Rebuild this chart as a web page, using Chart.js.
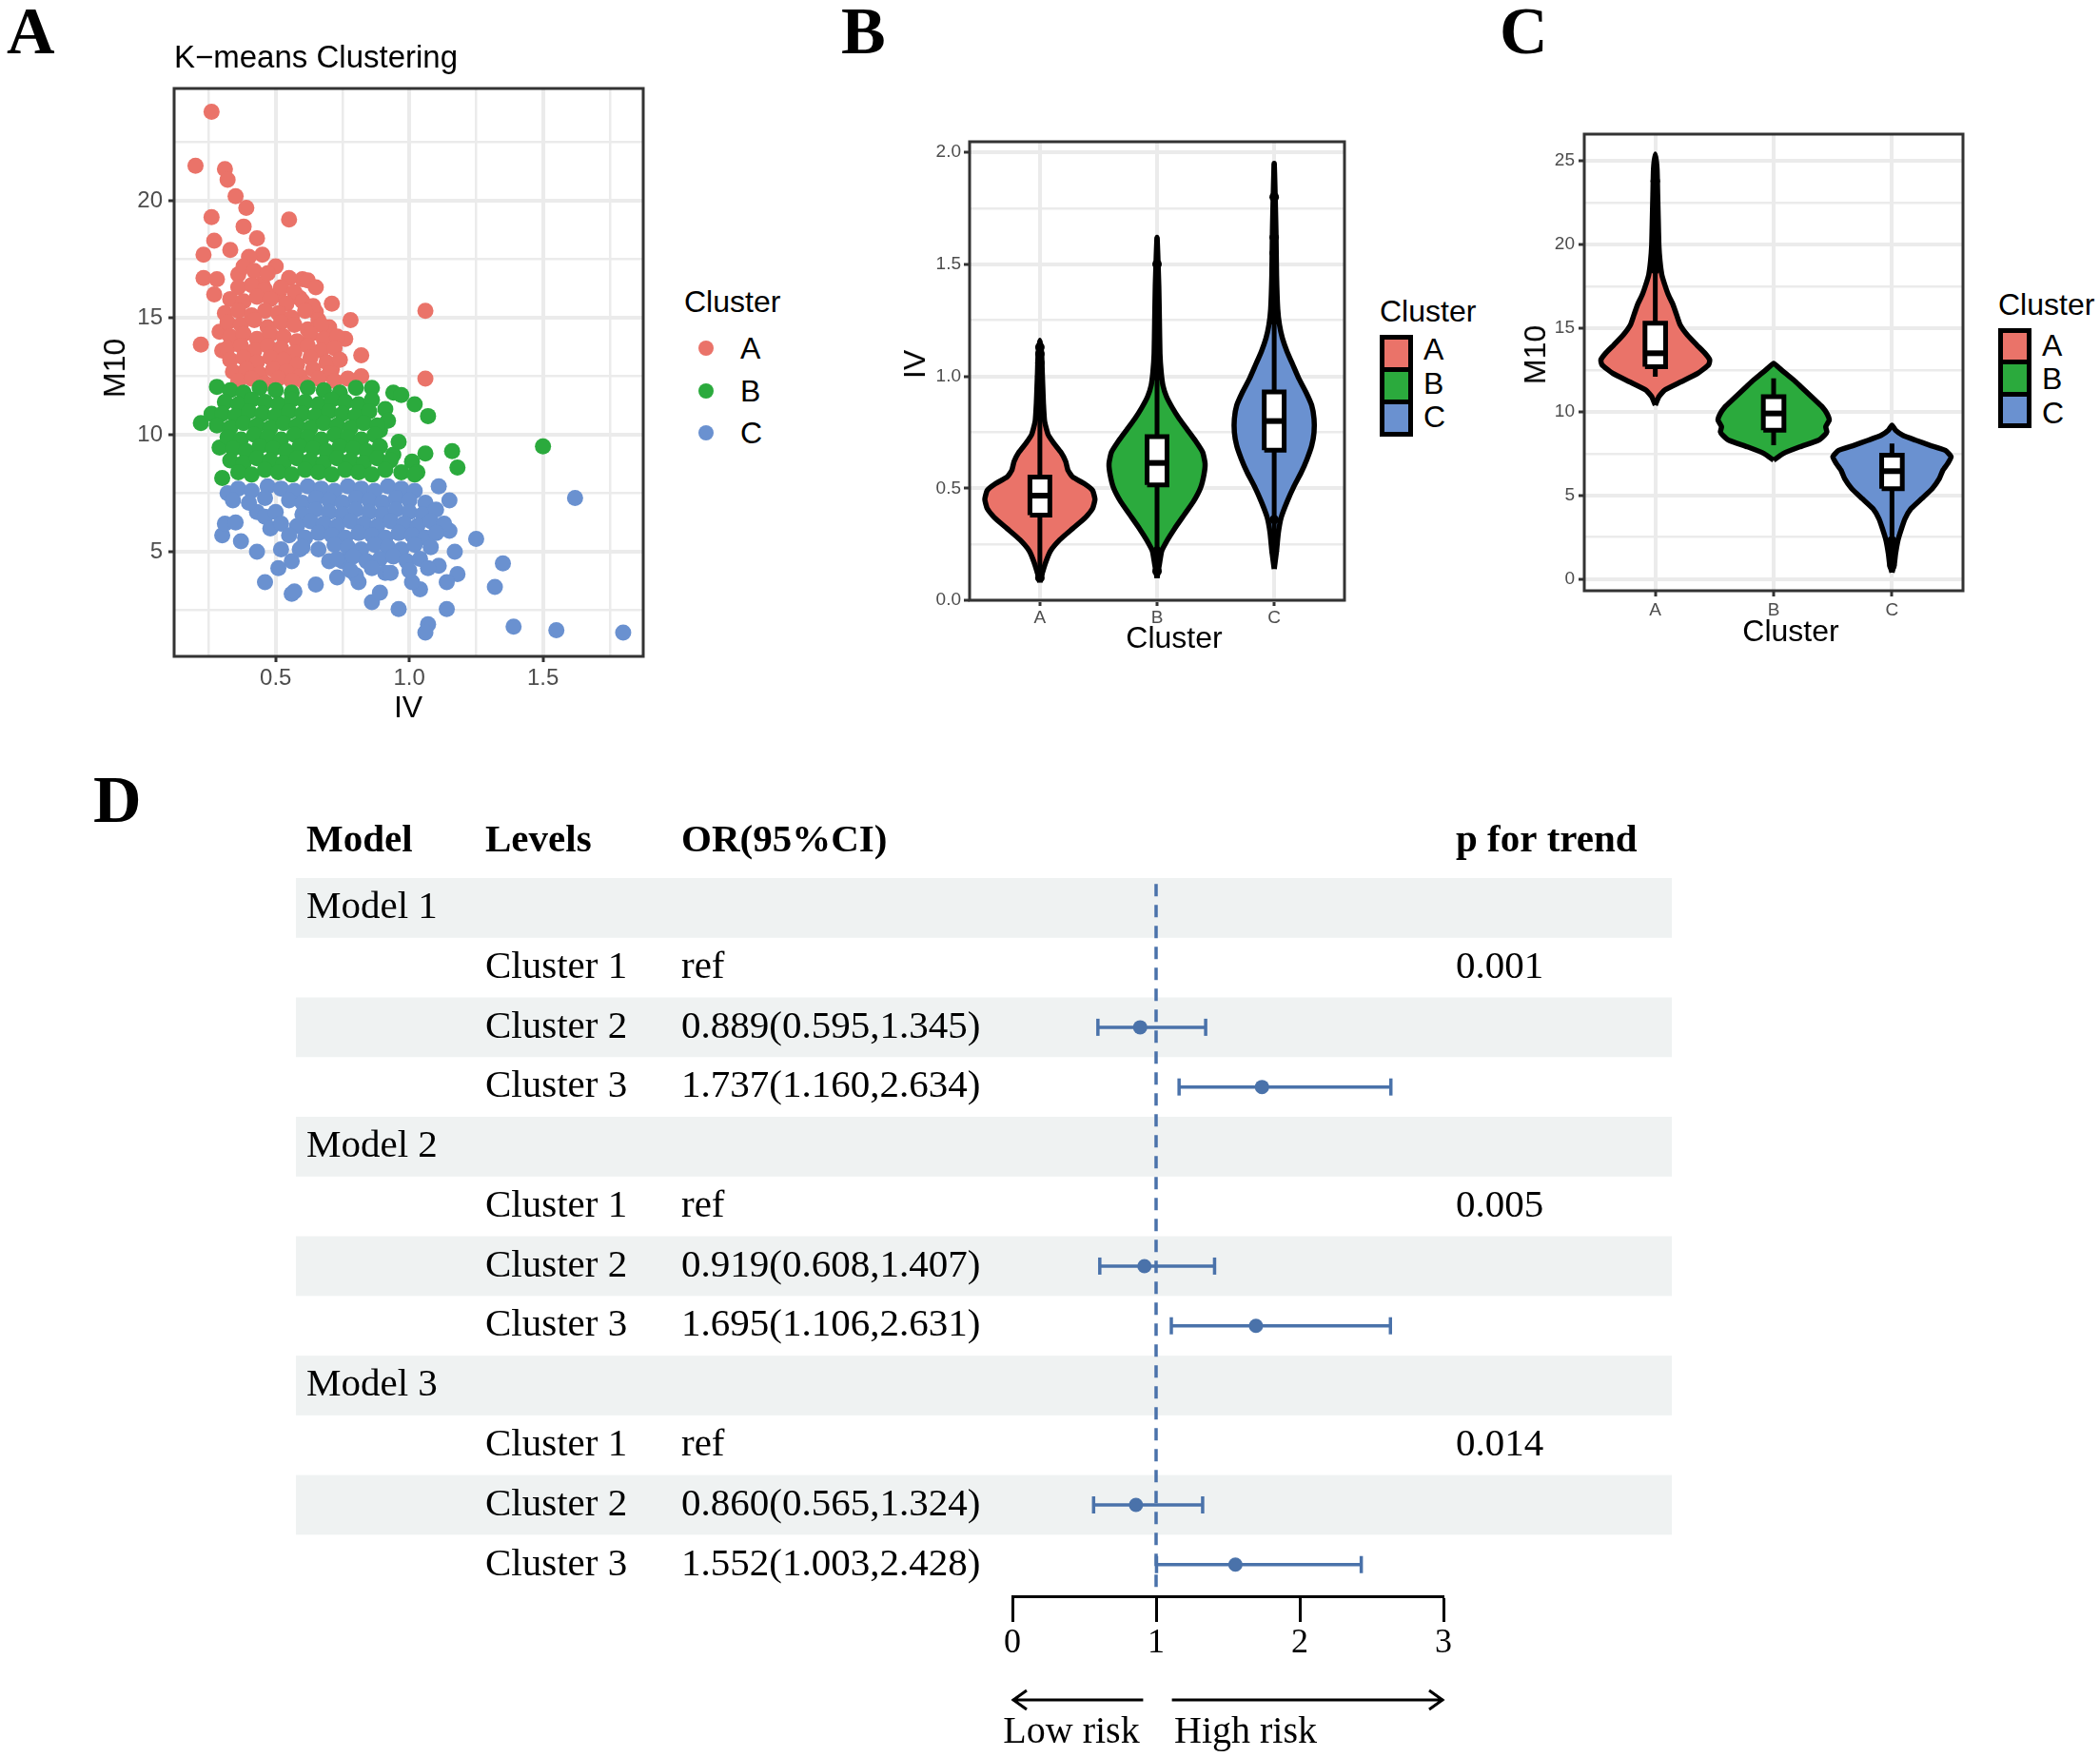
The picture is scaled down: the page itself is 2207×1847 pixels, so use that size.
<!DOCTYPE html>
<html>
<head>
<meta charset="utf-8">
<script src="https://cdn.jsdelivr.net/npm/chart.js@4.4.1/dist/chart.umd.min.js"></script>
<style>
  body { margin: 0; background: #fff; }
  #fig { position: relative; width: 2207px; height: 1847px; overflow: hidden; background: #fff; }
  .box { position: absolute; }
  .t { position: absolute; white-space: nowrap; line-height: 1; font-family: "Liberation Sans", Arial, sans-serif; color: #000; }
</style>
</head>
<body>
<div id="fig">
  <div class="box" style="left:0px;top:0px;width:700px;height:760px"><canvas id="chartA" width="700" height="760"></canvas></div>
  <div class="box" style="left:900px;top:100px;width:520px;height:600px"><canvas id="chartB" width="520" height="600"></canvas></div>
  <div class="box" style="left:1560px;top:100px;width:520px;height:600px"><canvas id="chartC" width="520" height="600"></canvas></div>
  <div class="box" style="left:300px;top:840px;width:1500px;height:1007px"><canvas id="chartD" width="1500" height="1007"></canvas></div>
</div>
<script>
// ---------- data ----------
const clusterNames = ['A', 'B', 'C'];

// panel A: K-means scatter (IV, M10)
const kmPointsA = [
  [0.26,23.8],[0.20,21.5],[0.31,21.35],[0.32,20.9],[0.35,20.2],[0.39,19.7],[0.26,19.3],[0.55,19.2],[0.38,18.9],
  [0.27,18.3],[0.43,18.4],[0.23,17.7],[0.33,17.9],[0.45,17.7],[0.40,17.6],[0.50,17.2],[0.23,16.7],[0.28,16.65],
  [0.36,16.85],[0.60,16.65],[0.62,16.6],[0.45,16.45],[0.27,16.0],[0.51,16.0],[0.59,15.85],[0.71,15.6],[1.06,15.3],
  [0.65,15.25],[0.78,14.9],[0.70,14.6],[0.22,13.85],[0.76,14.1],[0.82,13.4],[0.71,12.8],[0.82,12.5],[1.06,12.4],
  [0.29,14.4],[0.30,13.6],[0.38,17.2],[0.42,17.0],[0.47,16.9],[0.55,16.7],[0.65,16.3],
  [0.36,16.3],[0.41,16.4],[0.46,16.2],[0.52,16.3],[0.57,16.1],
  [0.33,15.8],[0.38,15.7],[0.43,15.9],[0.48,15.8],[0.54,15.6],[0.60,15.7],[0.64,15.5],
  [0.31,15.2],[0.36,15.3],[0.41,15.1],[0.46,15.3],[0.51,15.2],[0.56,15.0],[0.61,15.3],[0.66,14.9],
  [0.32,14.8],[0.37,14.7],[0.42,14.9],[0.47,14.6],[0.52,14.8],[0.57,14.7],[0.62,14.5],[0.67,14.7],
  [0.33,14.2],[0.38,14.3],[0.43,14.1],[0.48,14.3],[0.53,14.2],[0.58,14.0],[0.63,14.3],[0.68,14.1],[0.73,14.2],
  [0.32,13.7],[0.37,13.8],[0.42,13.6],[0.47,13.8],[0.52,13.7],[0.57,13.5],[0.62,13.8],[0.67,13.6],[0.72,13.7],
  [0.33,13.2],[0.38,13.3],[0.43,13.1],[0.48,13.3],[0.53,13.2],[0.58,13.0],[0.63,13.3],[0.69,13.1],[0.74,13.2],
  [0.34,12.7],[0.39,12.8],[0.44,12.6],[0.49,12.8],[0.54,12.7],[0.59,12.5],[0.64,12.8],[0.70,12.6],
  [0.36,12.3],[0.41,12.4],[0.46,12.2],[0.51,12.4],[0.56,12.3],[0.61,12.2],[0.66,12.4],[0.72,12.3],[0.77,12.4]
];
const kmPointsB = [
  [0.28,12.05],[0.22,10.5],[0.26,10.9],[0.29,9.45],[0.30,8.15],[0.86,12.0],[0.94,11.8],[0.97,11.7],[1.02,11.3],
  [1.07,10.8],[0.91,11.1],[1.06,9.2],[1.16,9.3],[1.18,8.6],[1.50,9.5],[1.01,8.85],[1.03,8.4],[0.94,9.15],
  [0.89,10.2],[0.92,10.6],[0.96,9.7],
  [0.33,11.9],[0.38,11.8],[0.44,12.0],[0.50,11.9],[0.56,11.8],[0.62,12.0],[0.68,11.9],[0.74,11.8],[0.80,12.0],
  [0.31,11.4],[0.36,11.3],[0.41,11.5],[0.46,11.4],[0.51,11.3],[0.56,11.5],[0.61,11.4],[0.66,11.3],[0.71,11.5],[0.76,11.4],[0.81,11.3],[0.86,11.5],
  [0.30,10.9],[0.35,10.8],[0.40,11.0],[0.45,10.9],[0.50,10.8],[0.55,11.0],[0.60,10.9],[0.65,10.8],[0.70,11.0],[0.75,10.9],[0.80,10.8],[0.85,11.0],
  [0.28,10.4],[0.33,10.3],[0.38,10.5],[0.43,10.4],[0.48,10.3],[0.53,10.5],[0.58,10.4],[0.63,10.3],[0.68,10.5],[0.73,10.4],[0.78,10.3],[0.83,10.5],[0.88,10.4],
  [0.32,9.9],[0.37,9.8],[0.42,10.0],[0.47,9.9],[0.52,9.8],[0.57,10.0],[0.62,9.9],[0.67,9.8],[0.72,10.0],[0.77,9.9],[0.82,9.8],[0.87,10.0],
  [0.34,9.4],[0.39,9.3],[0.44,9.5],[0.49,9.4],[0.54,9.3],[0.59,9.5],[0.64,9.4],[0.69,9.3],[0.74,9.5],[0.79,9.4],[0.84,9.3],[0.89,9.5],
  [0.33,8.9],[0.38,8.8],[0.43,9.0],[0.48,8.9],[0.53,8.8],[0.58,9.0],[0.63,8.9],[0.68,8.8],[0.73,9.0],[0.78,8.9],[0.83,8.8],[0.88,9.0],[0.93,8.9],
  [0.36,8.4],[0.41,8.3],[0.46,8.5],[0.51,8.4],[0.56,8.3],[0.61,8.5],[0.66,8.4],[0.71,8.3],[0.76,8.5],[0.81,8.4],[0.86,8.3],[0.91,8.5],[0.97,8.4],[1.02,8.3]
];
const kmPointsC = [
  [1.62,7.3],[1.25,5.55],[1.35,4.5],[1.32,3.5],[1.39,1.8],[1.55,1.65],[1.80,1.55],[1.07,1.9],[1.06,1.55],[1.14,2.55],
  [0.96,2.55],[0.86,2.85],[0.89,3.25],[1.18,4.05],[1.14,3.7],[1.11,4.4],[1.17,5.0],[1.15,5.9],[1.11,7.8],[1.15,7.2],
  [1.04,3.4],[1.01,3.7],[0.81,3.7],[0.80,4.0],[0.73,3.9],[0.65,3.6],[0.56,3.2],[0.57,3.3],[0.46,3.7],[0.51,4.3],
  [0.56,4.6],[0.52,5.1],[0.59,5.1],[0.43,5.0],[0.37,5.45],[0.30,5.7],[0.31,6.2],[0.35,6.25],[0.43,6.7],[0.32,7.5],
  [0.70,4.6],[0.75,4.6],[0.86,4.5],[0.91,4.1],[0.46,6.5],[0.48,6.0],
  [0.36,7.7],[0.41,7.6],[0.47,7.8],[0.52,7.7],[0.57,7.6],[0.62,7.8],[0.67,7.7],[0.72,7.6],[0.77,7.8],[0.82,7.7],[0.87,7.6],[0.92,7.8],[0.97,7.7],[1.02,7.6],
  [0.34,7.2],[0.40,7.1],[0.46,7.3],[0.55,7.2],[0.60,7.1],[0.65,7.3],[0.70,7.2],[0.75,7.1],[0.80,7.3],[0.85,7.2],[0.90,7.1],[0.95,7.3],[1.00,7.2],[1.06,7.1],
  [0.50,6.7],[0.60,6.6],[0.65,6.8],[0.70,6.7],[0.75,6.6],[0.80,6.8],[0.85,6.7],[0.90,6.6],[0.95,6.8],[1.00,6.7],[1.05,6.6],[1.10,6.8],
  [0.52,6.2],[0.58,6.1],[0.63,6.3],[0.68,6.2],[0.73,6.1],[0.78,6.3],[0.83,6.2],[0.88,6.1],[0.93,6.3],[0.98,6.2],[1.03,6.1],[1.08,6.3],[1.13,6.2],
  [0.55,5.7],[0.61,5.6],[0.66,5.8],[0.71,5.7],[0.76,5.6],[0.81,5.8],[0.86,5.7],[0.91,5.6],[0.96,5.8],[1.01,5.7],[1.06,5.6],[1.10,5.8],
  [0.60,5.2],[0.66,5.1],[0.72,5.3],[0.77,5.2],[0.82,5.1],[0.87,5.3],[0.92,5.2],[0.97,5.1],[1.02,5.3],[1.08,5.2],
  [0.73,4.7],[0.79,4.8],[0.84,4.6],[0.89,4.7],[0.94,4.8],[0.99,4.6],[1.04,4.7],
  [0.78,4.2],[0.86,4.3],[0.93,4.1],[1.00,4.2],[1.07,4.3]
];

// panel B: IV by cluster, violin profile [value, half width] and box stats
const ivDensityA = [[0.08,0],[0.12,0.02],[0.17,0.05],[0.22,0.09],[0.27,0.17],[0.32,0.28],[0.37,0.39],[0.41,0.45],[0.45,0.47],[0.49,0.45],[0.52,0.38],[0.55,0.28],[0.58,0.24],[0.62,0.22],[0.66,0.18],[0.70,0.12],[0.74,0.07],[0.80,0.04],[0.88,0.03],[0.95,0.025],[1.02,0.02],[1.10,0.015],[1.16,0]];
const ivDensityB = [[0.10,0],[0.16,0.02],[0.22,0.04],[0.27,0.09],[0.32,0.15],[0.38,0.23],[0.44,0.31],[0.50,0.37],[0.56,0.40],[0.61,0.41],[0.66,0.39],[0.71,0.33],[0.76,0.26],[0.81,0.19],[0.86,0.13],[0.91,0.08],[0.96,0.05],[1.02,0.035],[1.10,0.025],[1.25,0.02],[1.40,0.015],[1.62,0]];
const ivDensityC = [[0.14,0],[0.22,0.02],[0.30,0.035],[0.37,0.06],[0.44,0.11],[0.51,0.17],[0.57,0.23],[0.63,0.28],[0.69,0.32],[0.75,0.34],[0.81,0.34],[0.87,0.32],[0.93,0.27],[0.99,0.21],[1.05,0.16],[1.11,0.11],[1.17,0.07],[1.23,0.045],[1.30,0.03],[1.45,0.02],[1.65,0.015],[1.95,0]];
const ivQ1 = [0.38, 0.515, 0.67];
const ivMedian = [0.467, 0.613, 0.80];
const ivQ3 = [0.55, 0.73, 0.93];
const ivMin = [0.09, 0.10, 0.15];
const ivMax = [1.16, 1.62, 1.95];
const ivOutliers = [
  [0.82, 0.86, 0.90, 0.95, 1.00, 1.06, 1.10, 1.13, 0.12, 0.10],
  [1.00, 1.06, 1.15, 1.17, 1.50, 0.22, 0.13],
  [1.25, 1.30, 1.33, 1.38, 1.55, 1.62, 1.80, 0.22, 0.26, 0.30, 0.36]
];

// panel C: M10 by cluster
const m10DensityA = [[10.4,0],[10.9,0.03],[11.3,0.08],[11.8,0.22],[12.3,0.36],[12.8,0.45],[13.1,0.46],[13.5,0.42],[14.0,0.35],[14.6,0.27],[15.2,0.21],[15.8,0.18],[16.4,0.15],[17.0,0.11],[17.6,0.08],[18.2,0.055],[19.0,0.04],[20.0,0.03],[21.5,0.025],[23.0,0.02],[24.5,0.015],[25.4,0]];
const m10DensityB = [[7.1,0],[7.5,0.08],[7.9,0.22],[8.3,0.38],[8.6,0.43],[8.8,0.45],[9.1,0.44],[9.5,0.47],[9.9,0.45],[10.3,0.41],[10.7,0.35],[11.1,0.29],[11.5,0.23],[11.9,0.17],[12.3,0.10],[12.6,0.05],[12.9,0]];
const m10DensityC = [[0.4,0],[0.9,0.02],[1.5,0.03],[2.3,0.05],[3.0,0.08],[3.6,0.11],[4.2,0.16],[4.8,0.25],[5.4,0.34],[6.0,0.40],[6.5,0.43],[6.9,0.47],[7.3,0.50],[7.7,0.45],[8.0,0.32],[8.3,0.20],[8.6,0.09],[8.9,0.03],[9.2,0]];
const m10Q1 = [12.7, 8.9, 5.4];
const m10Median = [13.5, 9.9, 6.45];
const m10Q3 = [15.3, 10.9, 7.4];
const m10Min = [12.1, 8.0, 0.5];
const m10Max = [25.3, 12.0, 8.1];
const m10Outliers = [
  [18.5, 18.9, 19.3, 19.8, 20.3, 20.8, 21.2, 21.6, 23.8],
  [],
  [0.8, 1.1, 1.4, 1.6, 1.8, 2.0, 2.3]
];

// panel D: forest table
const modelCol = ['Model 1', '', '', '', 'Model 2', '', '', '', 'Model 3', '', '', ''];
const levelCol = ['', 'Cluster 1', 'Cluster 2', 'Cluster 3', '', 'Cluster 1', 'Cluster 2', 'Cluster 3', '', 'Cluster 1', 'Cluster 2', 'Cluster 3'];
const pTrendCol = ['', '0.001', '', '', '', '0.005', '', '', '', '0.014', '', ''];
const refRows = [1, 5, 9];
const orRows = [2, 3, 6, 7, 10, 11];
const orEst = [0.889, 1.737, 0.919, 1.695, 0.860, 1.552];
const orLow = [0.595, 1.160, 0.608, 1.106, 0.565, 1.003];
const orHigh = [1.345, 2.634, 1.407, 2.631, 1.324, 2.428];
const shadedRows = [0, 2, 4, 6, 8, 10];
const forestTicks = [0, 1, 2, 3];

// ---------- styles ----------
const SANS = '"Liberation Sans", Arial, sans-serif';
const SERIF = '"Liberation Serif", "Times New Roman", serif';
const RED = '#EA7369', GREEN = '#2BAA3D', BLUE = '#6A91D0';
const FOREST = '#4A72AA';
const fig = document.getElementById('fig');

const panelBorder = {
  id: 'panelBorder',
  afterDraw(chart) {
    const a = chart.chartArea, ctx = chart.ctx;
    ctx.save();
    ctx.strokeStyle = '#333333';
    ctx.lineWidth = 3;
    ctx.strokeRect(a.left, a.top, a.right - a.left, a.bottom - a.top);
    ctx.restore();
  }
};

function ggScale(o) {
  const isMajor = v => Math.abs(v / o.major - Math.round(v / o.major)) < 1e-6;
  return {
    type: 'linear', min: o.min, max: o.max,
    ticks: {
      stepSize: o.step, autoSkip: false, includeBounds: false, maxRotation: 0,
      color: '#4D4D4D', padding: o.pad,
      font: { family: SANS, size: o.font },
      callback: o.label || (v => isMajor(v) ? v.toFixed(o.digits) : '')
    },
    grid: {
      color: '#EBEBEB',
      lineWidth: c => (c.tick && isMajor(c.tick.value)) ? 4 : 2.5,
      drawTicks: true, tickLength: 6,
      tickWidth: c => (c.tick && isMajor(c.tick.value)) ? 3 : 0,
      tickColor: '#333333'
    },
    border: { display: false },
    afterFit: s => { if (o.width) s.width = o.width; if (o.height) s.height = o.height; }
  };
}

function baseOpts(padding, x, y) {
  return {
    responsive: false, animation: false, devicePixelRatio: 1, events: [],
    layout: { padding: padding, autoPadding: false },
    plugins: { legend: { display: false }, tooltip: { enabled: false } },
    scales: { x: x, y: y }
  };
}

const xy = pts => pts.map(p => ({ x: p[0], y: p[1] }));
const catLabel = v => clusterNames[Math.round(v) - 1] || '';

function violinSets(profiles, q1, med, q3, lo, hi, outliers, boxW) {
  const fills = [RED, GREEN, BLUE];
  const sets = [];
  profiles.forEach((prof, i) => {
    const c = i + 1;
    const right = prof.map(p => ({ x: c + p[1], y: p[0] }));
    const left = prof.slice(1, -1).reverse().map(p => ({ x: c - p[1], y: p[0] }));
    sets.push({ data: right.concat(left, [right[0]]), showLine: true, fill: 'shape', backgroundColor: fills[i],
      borderColor: '#000', borderWidth: 5.5, borderJoinStyle: 'round', pointRadius: 0, tension: 0.15, order: 5 });
    sets.push({ data: [{ x: c, y: lo[i] }, { x: c, y: hi[i] }], showLine: true, borderColor: '#000',
      borderWidth: 5, pointRadius: 0, order: 4 });
    sets.push({ data: [{ x: c - boxW, y: q1[i] }, { x: c + boxW, y: q1[i] }, { x: c + boxW, y: q3[i] },
      { x: c - boxW, y: q3[i] }, { x: c - boxW, y: q1[i] }], showLine: true, fill: 'shape', backgroundColor: '#fff',
      borderColor: '#000', borderWidth: 5, borderJoinStyle: 'miter', pointRadius: 0, order: 3 });
    sets.push({ data: [{ x: c - boxW, y: med[i] }, { x: c + boxW, y: med[i] }], showLine: true,
      borderColor: '#000', borderWidth: 6, pointRadius: 0, order: 2 });
    sets.push({ data: outliers[i].map(v => ({ x: c, y: v })), pointRadius: 5, backgroundColor: '#000',
      borderWidth: 0, order: 1 });
  });
  return sets;
}

// ---------- panel A ----------
new Chart(document.getElementById('chartA'), {
  type: 'scatter',
  data: {
    datasets: [
      { data: xy(kmPointsC), backgroundColor: BLUE, pointRadius: 8.5, borderWidth: 0 },
      { data: xy(kmPointsB), backgroundColor: GREEN, pointRadius: 8.5, borderWidth: 0 },
      { data: xy(kmPointsA), backgroundColor: RED, pointRadius: 8.5, borderWidth: 0 }
    ]
  },
  options: baseOpts({ top: 93, right: 24, left: 0, bottom: 0 },
    ggScale({ min: 0.12, max: 1.875, step: 0.25, major: 0.5, digits: 1, font: 24, pad: 3, height: 70 }),
    ggScale({ min: 0.53, max: 24.8, step: 2.5, major: 5, digits: 0, font: 24, pad: 6, width: 183 })),
  plugins: [panelBorder]
});

// ---------- panel B ----------
new Chart(document.getElementById('chartB'), {
  type: 'scatter',
  data: { datasets: violinSets([ivDensityA, ivDensityB, ivDensityC], ivQ1, ivMedian, ivQ3, ivMin, ivMax, ivOutliers, 0.085) },
  options: baseOpts({ top: 49, right: 7, left: 0, bottom: 0 },
    ggScale({ min: 0.4, max: 3.6, step: 1, major: 1, font: 19, pad: 1, height: 69, label: catLabel }),
    ggScale({ min: 0, max: 2.047, step: 0.25, major: 0.5, digits: 1, font: 19, pad: 3, width: 119 })),
  plugins: [panelBorder]
});

// ---------- panel C ----------
new Chart(document.getElementById('chartC'), {
  type: 'scatter',
  data: { datasets: violinSets([m10DensityA, m10DensityB, m10DensityC], m10Q1, m10Median, m10Q3, m10Min, m10Max, m10Outliers, 0.087) },
  options: baseOpts({ top: 41, right: 17, left: 0, bottom: 0 },
    ggScale({ min: 0.4, max: 3.6, step: 1, major: 1, font: 19, pad: 3, height: 79, label: catLabel }),
    ggScale({ min: -0.7, max: 26.6, step: 2.5, major: 5, digits: 0, font: 19, pad: 4, width: 105 })),
  plugins: [panelBorder]
});

// ---------- panel D ----------
const tableCols = { model: 22, level: 210, or: 416, p: 1230 };
const forestDecor = {
  id: 'forestDecor',
  beforeDatasetsDraw(chart) {
    const ctx = chart.ctx, ys = chart.scales.y;
    const rowH = Math.abs(ys.getPixelForValue(1) - ys.getPixelForValue(0));
    ctx.save();
    ctx.fillStyle = '#EFF2F2';
    shadedRows.forEach(r => ctx.fillRect(11, ys.getPixelForValue(r) - rowH / 2, 1446, rowH));
    ctx.restore();
  },
  afterDatasetsDraw(chart) {
    const ctx = chart.ctx, ys = chart.scales.y, xs = chart.scales.x;
    ctx.save();
    ctx.fillStyle = '#000';
    ctx.textBaseline = 'middle';
    ctx.textAlign = 'left';
    const hy = ys.getPixelForValue(-1.11);
    ctx.font = 'bold 41px ' + SERIF;
    ctx.fillText('Model', tableCols.model, hy);
    ctx.fillText('Levels', tableCols.level, hy);
    ctx.fillText('OR(95%CI)', tableCols.or, hy);
    ctx.fillText('p for trend', tableCols.p, hy);
    ctx.font = '41px ' + SERIF;
    modelCol.forEach((t, r) => {
      const y = ys.getPixelForValue(r);
      if (t) ctx.fillText(t, tableCols.model, y);
      if (levelCol[r]) ctx.fillText(levelCol[r], tableCols.level, y);
      if (pTrendCol[r]) ctx.fillText(pTrendCol[r], tableCols.p, y);
    });
    refRows.forEach(r => ctx.fillText('ref', tableCols.or, ys.getPixelForValue(r)));
    orRows.forEach((r, k) => ctx.fillText(orEst[k].toFixed(3) + '(' + orLow[k].toFixed(3) + ',' + orHigh[k].toFixed(3) + ')',
      tableCols.or, ys.getPixelForValue(r)));
    // risk arrows
    const ay = 947;
    ctx.strokeStyle = '#000';
    ctx.lineWidth = 3;
    const l0 = xs.getPixelForValue(0.91), l1 = xs.getPixelForValue(0);
    const r0 = xs.getPixelForValue(1.11), r1 = xs.getPixelForValue(3);
    ctx.beginPath();
    ctx.moveTo(l0, ay); ctx.lineTo(l1, ay);
    ctx.moveTo(l1 + 15, ay - 10); ctx.lineTo(l1 + 1, ay); ctx.lineTo(l1 + 15, ay + 10);
    ctx.moveTo(r0, ay); ctx.lineTo(r1, ay);
    ctx.moveTo(r1 - 15, ay - 10); ctx.lineTo(r1 - 1, ay); ctx.lineTo(r1 - 15, ay + 10);
    ctx.stroke();
    ctx.font = '40px ' + SERIF;
    ctx.textAlign = 'center';
    ctx.fillText('Low risk', 826, 981);
    ctx.fillText('High risk', 1009, 981);
    ctx.restore();
  }
};

const forestSets = [
  { data: orEst.map((v, k) => ({ x: v, y: orRows[k] })), pointRadius: 7.5, backgroundColor: FOREST, borderWidth: 0, order: 1 }
];
orRows.forEach((r, k) => forestSets.push({
  data: [{ x: orLow[k], y: r }, { x: orHigh[k], y: r }], showLine: true, borderColor: FOREST, borderWidth: 3.5,
  pointStyle: 'line', pointRadius: 9, pointRotation: 90, pointBorderColor: FOREST, pointBorderWidth: 3.5, order: 2
}));
forestSets.push({ data: [{ x: 1, y: -0.4 }, { x: 1, y: 11.5 }], showLine: true, borderColor: FOREST, borderWidth: 3.5,
  borderDash: [13, 9], pointRadius: 0, order: 3 });

new Chart(document.getElementById('chartD'), {
  type: 'scatter',
  data: { datasets: forestSets },
  options: baseOpts({ top: 83, right: 283, left: 764, bottom: 0 },
    {
      type: 'linear', min: forestTicks[0], max: forestTicks[forestTicks.length - 1],
      ticks: { stepSize: 1, color: '#000', padding: 1, font: { family: SERIF, size: 36 }, callback: v => String(v) },
      grid: { drawOnChartArea: false, drawTicks: true, tickLength: 27, tickColor: '#000', tickWidth: 3 },
      border: { display: true, color: '#000', width: 3 },
      afterFit: s => { s.height = 169; }
    },
    { type: 'linear', reverse: true, min: -0.5, max: 11.53, display: false }),
  plugins: [forestDecor]
});

// ---------- html text: letters, titles, legends ----------
function addText(txt, x, y, o) {
  o = o || {};
  const d = document.createElement('div');
  d.className = 't';
  d.textContent = txt;
  d.style.left = x + 'px';
  d.style.top = y + 'px';
  d.style.fontSize = (o.size || 32) + 'px';
  if (o.family) d.style.fontFamily = o.family;
  if (o.bold) d.style.fontWeight = 'bold';
  let tf = o.center ? 'translate(-50%,-50%)' : 'translate(0,-50%)';
  if (o.rotate) tf += ' rotate(-90deg)';
  d.style.transform = tf;
  fig.appendChild(d);
}
function addBlock(x, y, w, h, color, round) {
  const d = document.createElement('div');
  d.style.cssText = 'position:absolute;left:' + x + 'px;top:' + y + 'px;width:' + w + 'px;height:' + h + 'px;background:' + color +
    (round ? ';border-radius:50%' : '');
  fig.appendChild(d);
}
function addKeyStrip(x, y, w, h, colors) {
  addBlock(x, y, w, h, '#000');
  const ih = (h - 5 * (colors.length + 1)) / colors.length;
  colors.forEach((c, i) => addBlock(x + 5, y + 5 + i * (ih + 5), w - 10, ih, c));
}

const letter = { family: SERIF, bold: true, size: 70 };
addText('A', 7, 33, letter);
addText('B', 884, 33, letter);
addText('C', 1576, 33, letter);
addText('D', 98, 841, letter);

// A
addText('K\u2212means Clustering', 183, 59, { size: 33 });
addText('M10', 120, 387, { size: 32, center: true, rotate: true });
addText('IV', 429, 743, { size: 32, center: true });
addText('Cluster', 719, 317, { size: 32 });
[RED, GREEN, BLUE].forEach((c, i) => {
  const cy = [366, 411, 455][i];
  addBlock(734, cy - 8, 16, 16, c, true);
  addText(clusterNames[i], 778, cy, { size: 32 });
});

// B
addText('IV', 961, 383, { size: 32, center: true, rotate: true });
addText('Cluster', 1234, 670, { size: 32, center: true });
addText('Cluster', 1450, 327, { size: 32 });
addKeyStrip(1450, 352, 35, 107, [RED, GREEN, BLUE]);
[367, 403, 438].forEach((cy, i) => addText(clusterNames[i], 1496, cy, { size: 32 }));

// C
addText('M10', 1613, 373, { size: 32, center: true, rotate: true });
addText('Cluster', 1882, 663, { size: 32, center: true });
addText('Cluster', 2100, 320, { size: 32 });
addKeyStrip(2100, 345, 35, 105, [RED, GREEN, BLUE]);
[363, 398, 434].forEach((cy, i) => addText(clusterNames[i], 2146, cy, { size: 32 }));
</script>
</body>
</html>
